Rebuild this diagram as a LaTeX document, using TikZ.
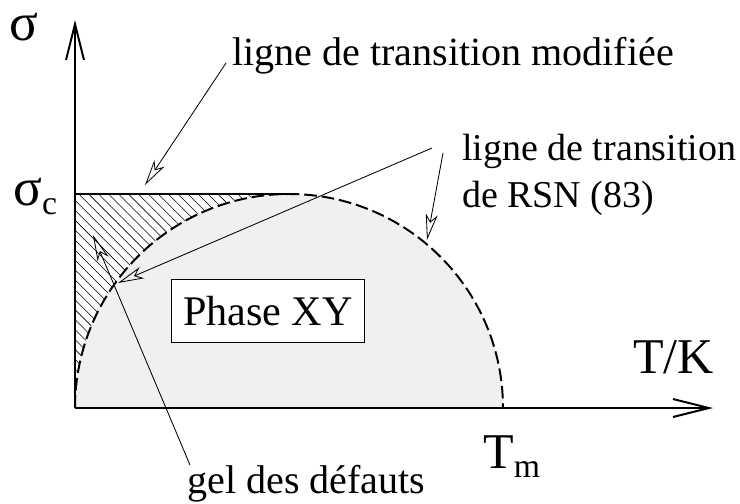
\documentclass[tikz,border=0pt]{standalone}
\usepackage{fontspec}
\setmainfont{Liberation Serif}
\usetikzlibrary{arrows.meta,patterns.meta}
\newcommand{\indice}[1]{\raisebox{-7pt}{\fontsize{24}{24}\selectfont #1}}
\newcommand{\sig}{{\fontsize{38}{38}\selectfont σ}}
\tikzset{
  axe/.style={line width=1.4pt, -{Straight Barb[length=9mm,width=4.5mm]}},
  renvoi/.style={line width=0.6pt, -{Stealth[open,length=6.5mm,width=3mm,inset=1.8mm]}},
  etiquette/.style={inner sep=0pt, font=\fontsize{28.5}{33.4}\selectfont},
  grand/.style={inner sep=0pt, font=\fontsize{35.6}{40}\selectfont},
}
\begin{document}
\begin{tikzpicture}
  \useasboundingbox (-1.875,-2.375) rectangle (16.625,10.2);
  \coordinate (O) at (0,0);
  \coordinate (ymax) at (0,9.7);
  \coordinate (xmax) at (15.95,0);
  \coordinate (sc) at (0,5.35);
  \coordinate (sommet) at (5.35,5.35);

  \fill[black!6] (O) arc[start angle=180,end angle=0,radius=5.35] -- cycle;
  \fill[pattern={Lines[angle=-45,distance=5pt,line width=0.4pt]}]
    (O) -- (sc) -- (sommet) arc[start angle=90,end angle=180,radius=5.35] -- cycle;
  \draw[line width=1.4pt, dash pattern=on 9pt off 3.5pt]
    (O) arc[start angle=180,end angle=0,radius=5.35];
  \draw[line width=1.4pt] (sc) -- (sommet);
  \draw[axe] (O) -- (ymax);
  \draw[axe] (O) -- (xmax);

  \node[etiquette, draw, fill=white, line width=0.7pt, minimum width=4.825cm,
        minimum height=1.575cm, font=\fontsize{30}{34}\selectfont] (phase) at (4.825,2.425) {Phase XY};

  \node[grand, anchor=base west] (sigma) at (-1.65,9.2) {\sig};
  \node[grand, anchor=base west] (sigmac) at (-1.55,5.075) {\sig\indice{c}};
  \node[grand, anchor=base west] (TK) at (13.95,0.875) {T/K};
  \node[grand, anchor=base west] (Tm) at (10.2,-1.5) {T\indice{m}};

  \node[etiquette, anchor=base west] (modif) at (3.925,8.575) {ligne de transition modifiée};
  \node[etiquette, anchor=north west, align=left, font=\fontsize{27}{33.4}\selectfont]
    (rsn) at (9.675,6.85) {ligne de transition\\de RSN (83)};
  \node[etiquette, anchor=base west] (gel) at (2.8,-2.125) {gel des défauts};

  \coordinate (dmodif) at (3.775,8.625);
  \coordinate (fmodif) at (1.75,5.575);
  \coordinate (drsna) at (8.925,6.5);
  \coordinate (frsna) at (1.075,3.125);
  \coordinate (drsnb) at (9.2,6.375);
  \coordinate (frsnb) at (8.8,4.2);
  \coordinate (dgel) at (2.875,-1.425);
  \coordinate (fgel) at (0.45,4.325);

  \draw[renvoi] (dmodif) -- (fmodif);
  \draw[renvoi] (drsna) -- (frsna);
  \draw[renvoi] (drsnb) -- (frsnb);
  \draw[renvoi] (dgel) -- (fgel);
\end{tikzpicture}
\end{document}
